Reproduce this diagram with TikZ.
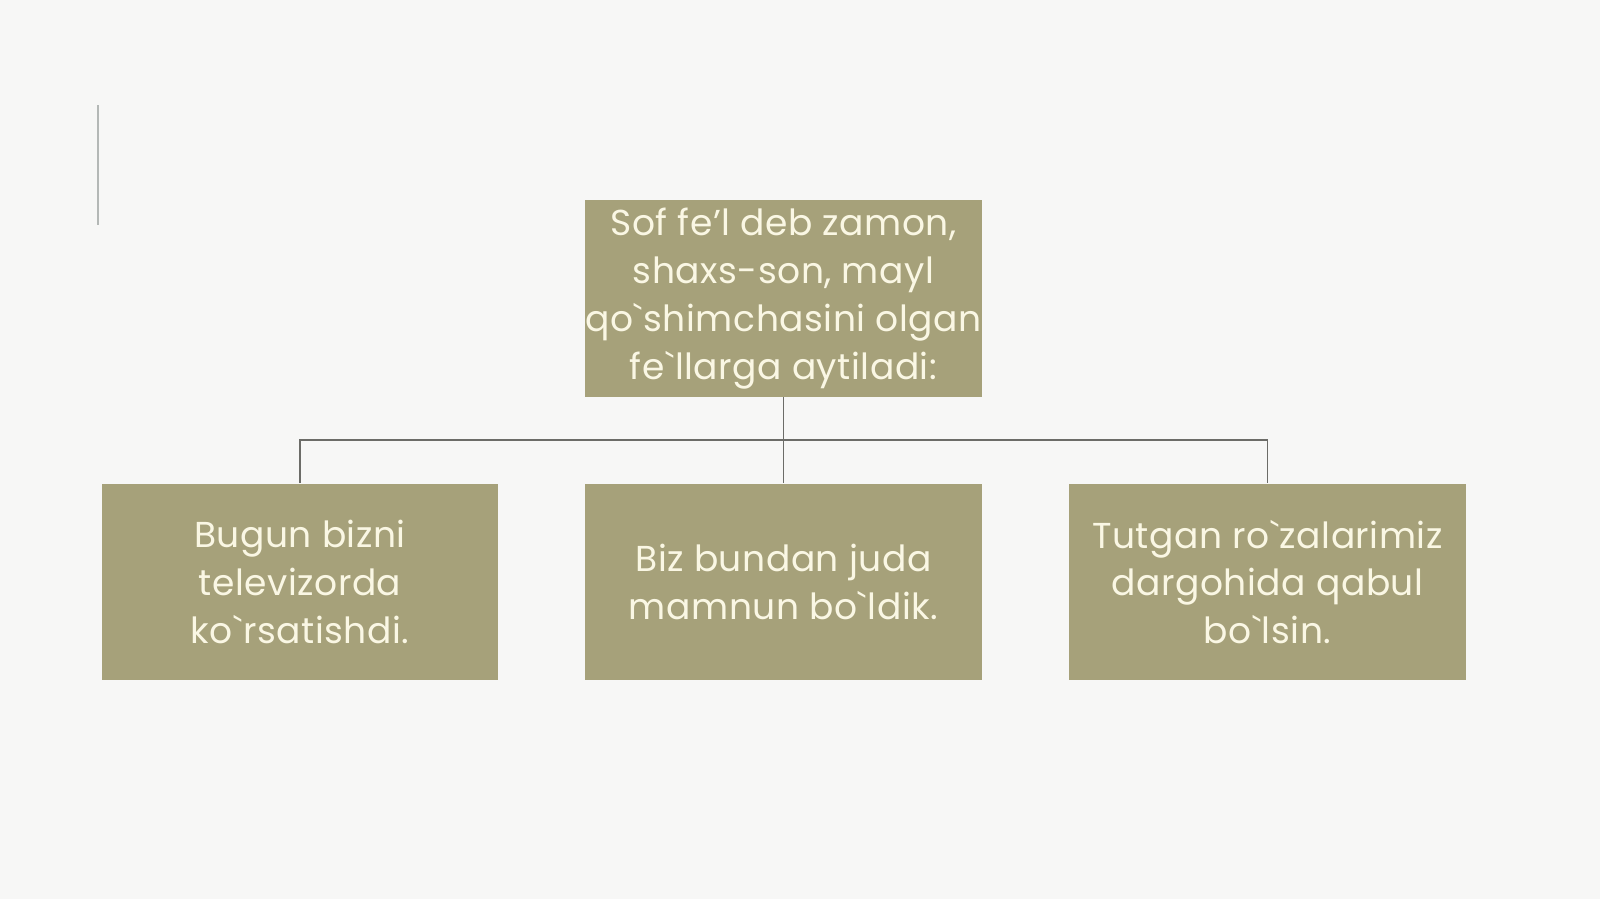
\documentclass[tikz,border=0pt]{standalone}
\usepackage{fontspec}
\setmainfont{Poppins}[Ligatures=TeXOff,LetterSpace=1.5]
\begin{document}
\begin{tikzpicture}[x=0.02cm,y=-0.02cm,
  box/.style={draw=none,fill=boxfill,text=boxtext,minimum width=7.94cm,minimum height=3.94cm,align=center,inner sep=0pt,font=\fontsize{20.5}{27.2}\selectfont},
  conn/.style={draw=linegray,line width=1.1pt}]
\definecolor{boxfill}{RGB}{166,161,122}
\definecolor{boxtext}{RGB}{250,247,228}
\definecolor{linegray}{RGB}{108,108,104}
\definecolor{bg}{RGB}{247,247,246}
\fill[bg] (0,0) rectangle (1600,899);
\useasboundingbox (0,0) rectangle (1600,899);
\draw[draw={rgb,255:red,180;green,184;blue,182},line width=1.2pt] (98,105) -- (98,225);
\node[box] (top) at (783.5,298.5) {Sof fe’l deb zamon,\\shaxs-son, mayl\\qo`shimchasini olgan\\fe`llarga aytiladi:};
\node[box] (l) at (300,582) {Bugun bizni\\televizorda\\ko`rsatishdi.};
\node[box] (m) at (783.5,582) {Biz bundan juda\\mamnun bo`ldik.};
\node[box] (r) at (1267.5,582) {Tutgan ro`zalarimiz\\dargohida qabul\\bo`lsin.};
\coordinate (j) at (783.5,440);
\draw[conn] (top.south) -- (j);
\draw[conn] (l.north) |- (j) -| (r.north);
\draw[conn] (j) -- (m.north);
\end{tikzpicture}
\end{document}
